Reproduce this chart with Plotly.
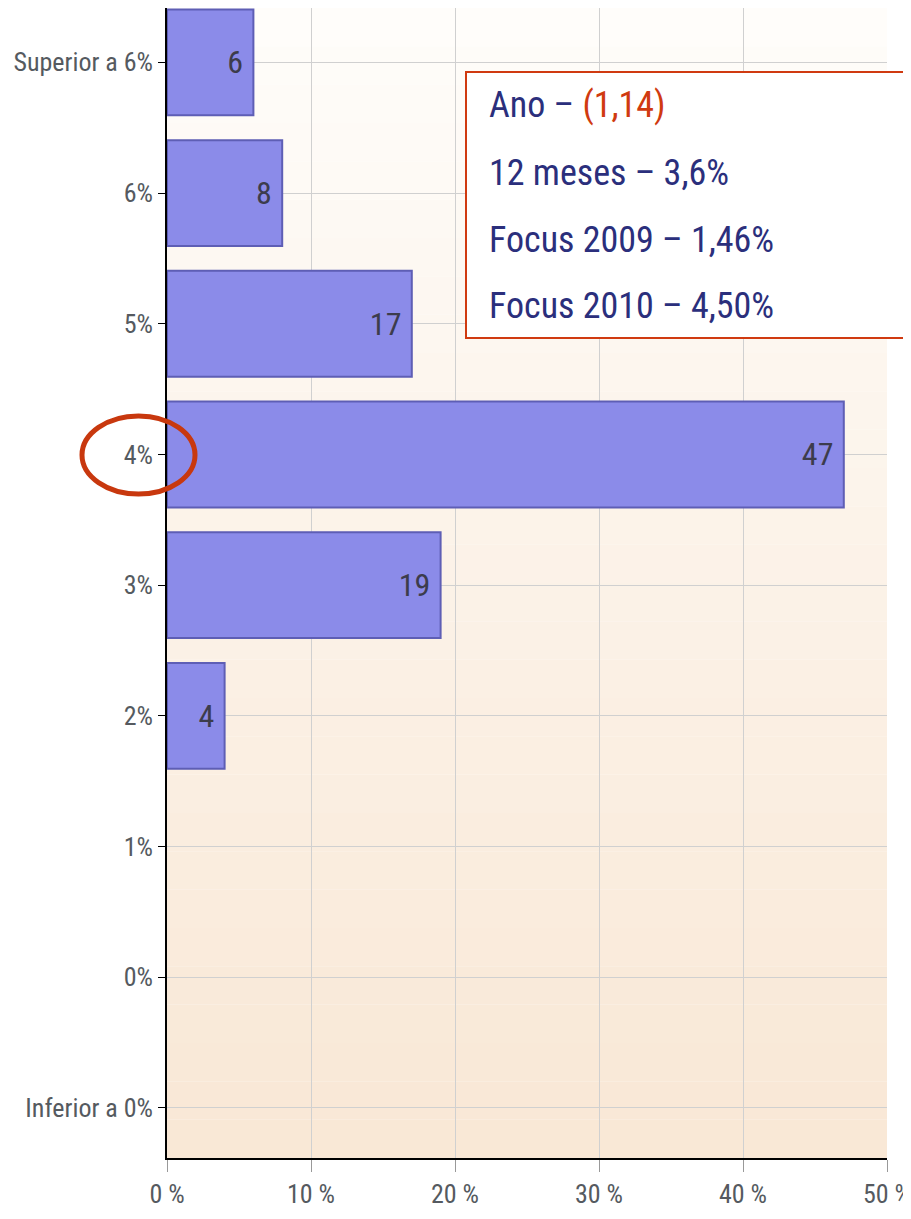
import plotly.graph_objects as go

# categories from top to bottom, share of respondents (%)
faixas = ["Superior a 6%", "6%", "5%", "4%", "3%", "2%", "1%", "0%", "Inferior a 0%"]
respostas = [6, 8, 17, 47, 19, 4, 0, 0, 0]

x_ticks = [0, 10, 20, 30, 40, 50]
x_labels = ["0 %", "10 %", "20 %", "30 %", "40 %", "50 %"]

box_lines = [
    "Ano – <span style='color:#d03a10'>(1,14)</span>",
    "12 meses – 3,6%",
    "Focus 2009 – 1,46%",
    "Focus 2010 – 4,50%",
]

cats = faixas[::-1]
vals = respostas[::-1]

NARROW = "Roboto Condensed, Liberation Sans"

# page body adds an 8px offset, figure is sized to fit the window
W, H = 903, 1211
ML, MR, MT, MB = 159, 24, 0, 61
PH = H - MT - MB
PW = W - ML - MR


def py_to_paper(py):
    # py measured in window pixels
    return (H + 8 - MB - py) / PH


def px_to_paper(px):
    return (px - 8 - ML) / PW


fig = go.Figure()
fig.add_trace(go.Bar(
    x=vals, y=cats, orientation="h", width=0.81,
    marker=dict(color="#8b8be9", line=dict(color="#5e5eb5", width=[2 if v else 0 for v in vals])),
    text=[f"{v}\u00a0" if v else "" for v in vals],
    textposition="inside", insidetextanchor="end",
    textfont=dict(family=NARROW, size=32, color="#3c3c4c"),
    hoverinfo="x+y",
))

# soft vertical gradient for the plot background
shapes = []
n = 30
for i in range(n):
    t = i / (n - 1)
    r = int(255 - 6 * t)
    g = int(253 - 21 * t)
    b = int(250 - 36 * t)
    shapes.append(dict(type="rect", xref="paper", yref="paper",
                       x0=0, x1=1, y0=1 - (i + 1) / n, y1=1 - i / n,
                       fillcolor=f"rgb({r},{g},{b})", line=dict(width=0), layer="below"))

# info box
shapes.append(dict(type="rect", xref="paper", yref="paper",
                   x0=px_to_paper(466), x1=px_to_paper(906), y0=py_to_paper(338), y1=py_to_paper(72),
                   fillcolor="white", line=dict(color="#d03a10", width=2), layer="above"))
# red ellipse around 4%
shapes.append(dict(type="circle", xref="paper", yref="paper",
                   x0=px_to_paper(82), x1=px_to_paper(195), y0=py_to_paper(494), y1=py_to_paper(416),
                   line=dict(color="#c8380e", width=5)))

annotations = []
line_y = [105, 173, 240, 306]
for txt, py in zip(box_lines, line_y):
    annotations.append(dict(
        text=txt, xref="paper", yref="paper", x=px_to_paper(487), y=py_to_paper(py),
        xanchor="left", yanchor="middle", showarrow=False,
        font=dict(family=NARROW, size=36, color="#2b2f7c"),
    ))

fig.update_layout(
    width=W, height=H,
    margin=dict(l=ML, r=MR, t=MT, b=MB),
    paper_bgcolor="white", plot_bgcolor="rgba(0,0,0,0)",
    showlegend=False, bargap=0.19,
    shapes=shapes, annotations=annotations,
    font=dict(family=NARROW, color="#555a60"),
)
fig.update_xaxes(
    range=[0, 50], tickvals=x_ticks, ticktext=x_labels, automargin=False,
    ticklabeloverflow="allow",
    showgrid=True, gridcolor="#d0d0d0", gridwidth=1,
    showline=True, linecolor="black", linewidth=2,
    ticks="outside", ticklen=12, tickcolor="#999999",
    tickfont=dict(size=26, color="#555a60"), zeroline=False,
)
fig.update_yaxes(
    categoryorder="array", categoryarray=cats, range=[-0.383, 8.416], automargin=False,
    showgrid=True, gridcolor="#d0d0d0", gridwidth=1,
    showline=True, linecolor="black", linewidth=1.5,
    ticks="outside", ticklen=7, tickcolor="black",
    tickfont=dict(size=26, color="#555a60"),
)

fig.write_html("out.html")
